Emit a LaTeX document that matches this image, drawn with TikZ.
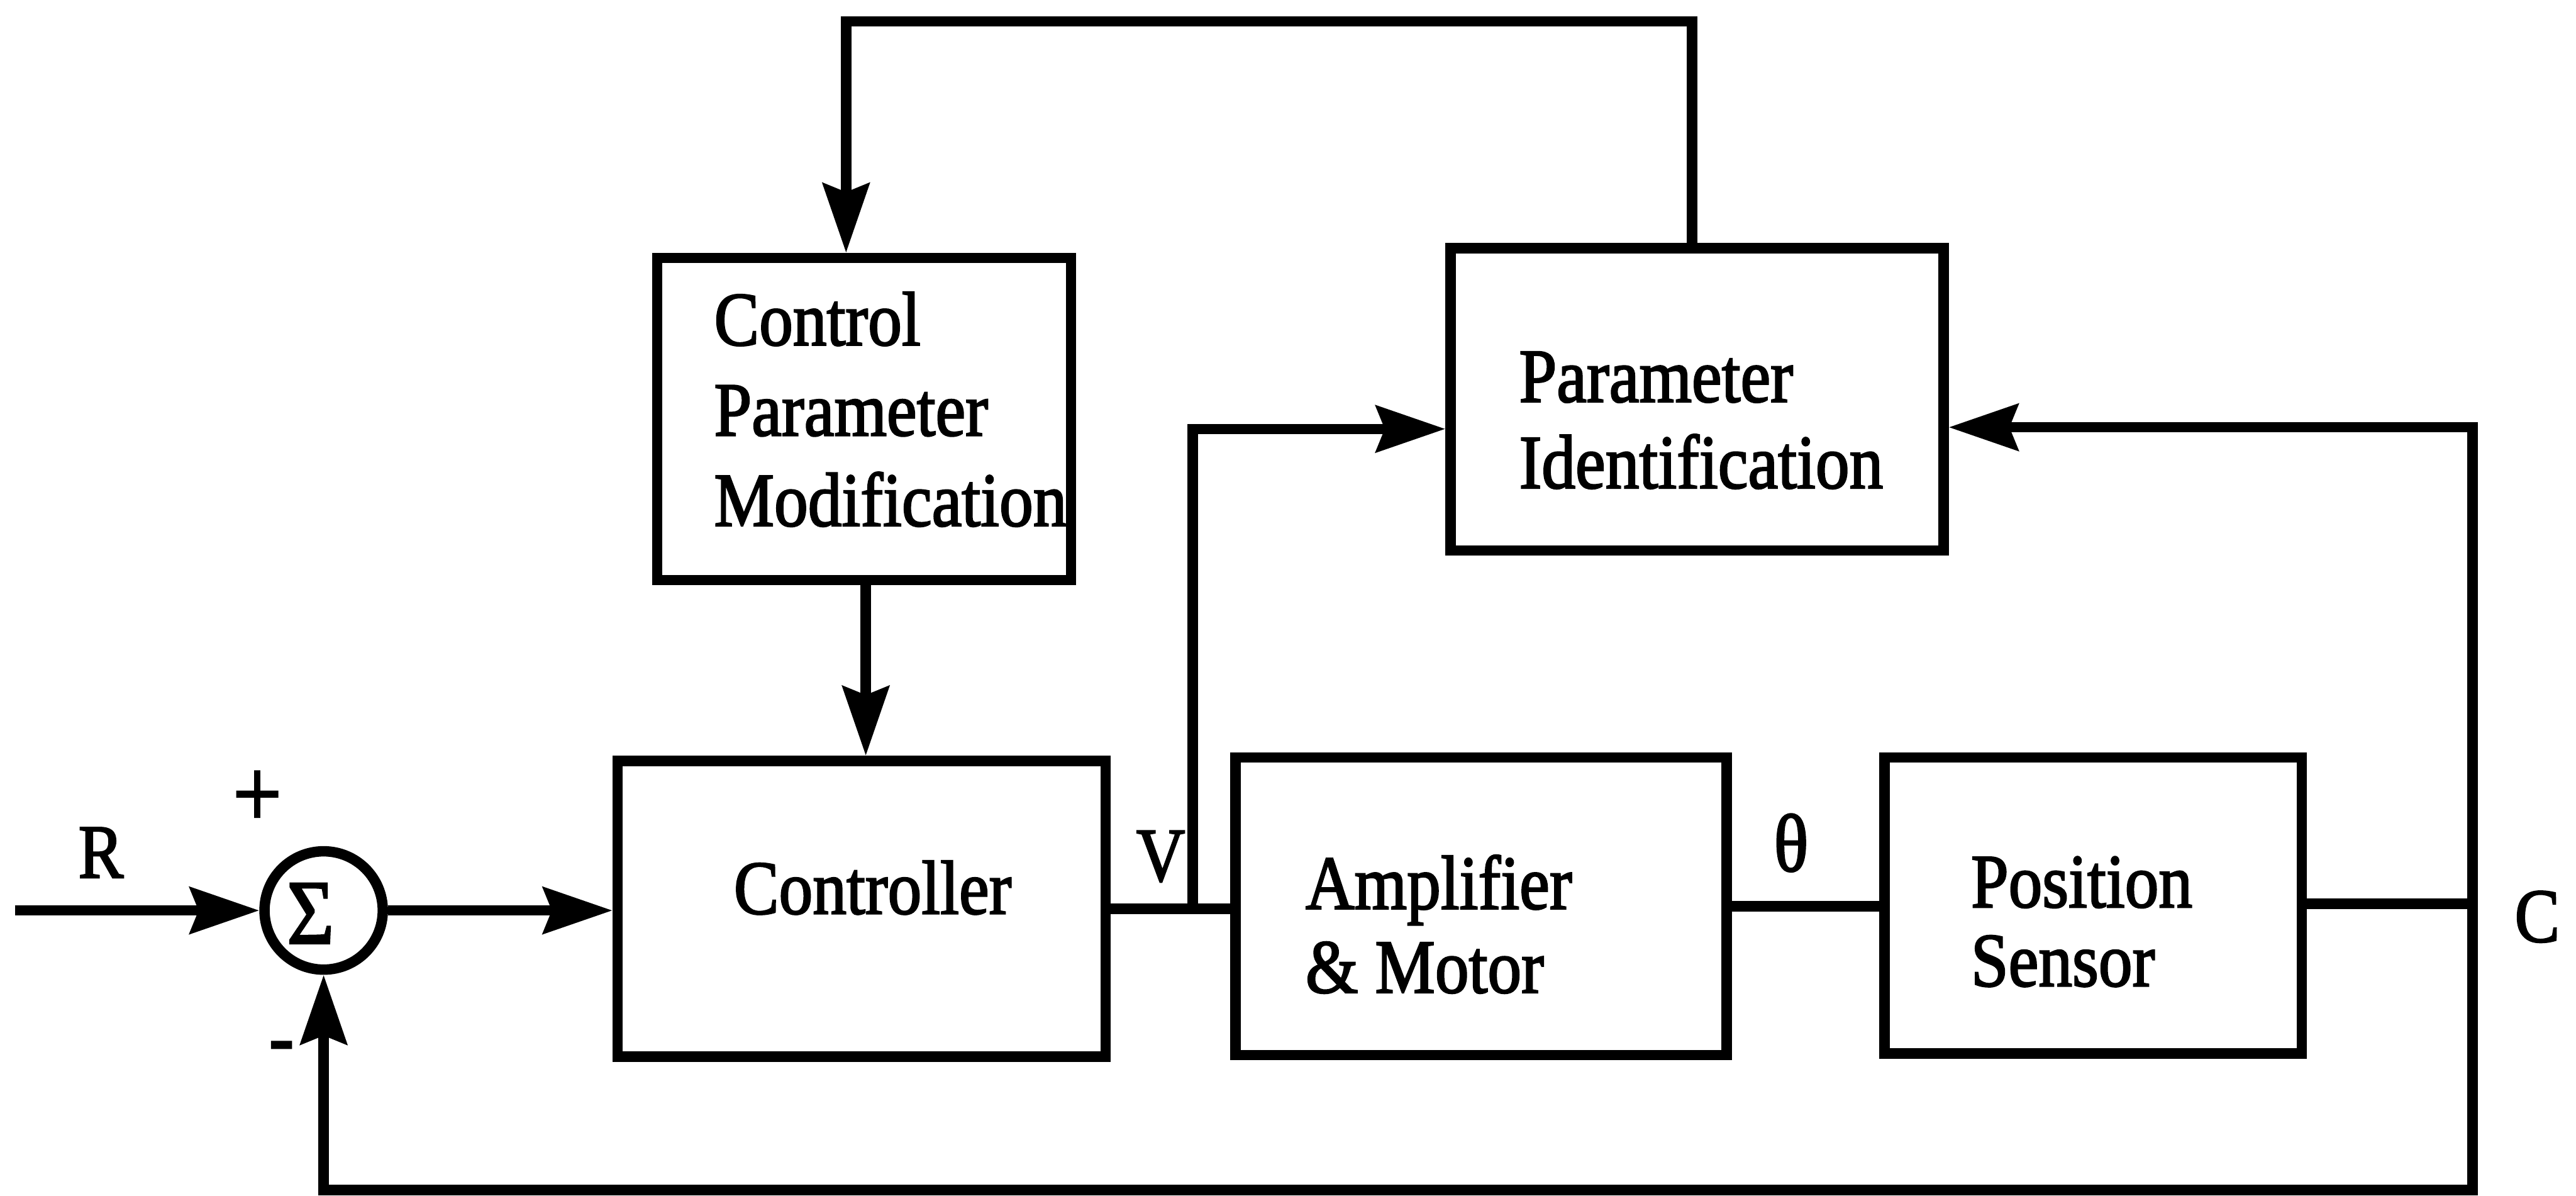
\documentclass[tikz,border=0pt]{standalone}
\usepackage{fontspec}
\setmainfont[FakeBold=2.2]{Liberation Serif}
\usetikzlibrary{arrows.meta}
\tikzset{
  blk/.style={draw, line width=1.8pt, rectangle, inner sep=0pt},
  sumnode/.style={draw, line width=1.8pt, circle, inner sep=0pt, minimum size=7.2mm},
  lbl/.style={inner sep=0pt, anchor=base west, font=\fontsize{11.7}{14}\selectfont},
  wire/.style={line width=1.8pt},
  arr/.style={wire, -{Stealth[length=12pt,width=8pt,inset=1.5pt]}},
}
% slightly tall lettering
\newcommand{\tall}[1]{\scalebox{1}[1.13]{#1}}

\begin{document}
\begin{tikzpicture}[x=0.1mm,y=-0.1mm]
\useasboundingbox (0,0) rectangle (1568,727.4);

% blocks
\node[blk, minimum width=25.2mm, minimum height=19.6mm] (cpm)  at (526,255) {};
\node[blk, minimum width=30.0mm, minimum height=18.4mm] (pid)  at (1033,243) {};
\node[blk, minimum width=29.7mm, minimum height=18.0mm] (ctrl) at (524.5,553) {};
\node[blk, minimum width=29.9mm, minimum height=18.1mm] (amp)  at (901.5,551.5) {};
\node[blk, minimum width=25.4mm, minimum height=18.0mm] (ps)   at (1274,551) {};
\node[sumnode] (sum) at (197,554) {};

% block texts
\node[lbl] (t1)  at (434,210)   {\tall{Control}};
\node[lbl] (t2)  at (434,265)   {\tall{Parameter}};
\node[lbl] (t3)  at (434,320)   {\tall{Modification}};
\node[lbl] (t4)  at (924,244.5) {\tall{Parameter}};
\node[lbl] (t5)  at (924,297)   {\tall{Identification}};
\node[lbl] (t6)  at (446,556)   {\tall{Controller}};
\node[lbl] (t7)  at (794,553)   {\tall{Amplifier}};
\node[lbl] (t8)  at (794,604)   {\tall{\& Motor}};
\node[lbl] (t9)  at (1199,552)  {\tall{Position}};
\node[lbl] (t10) at (1199,600)  {\tall{Sensor}};

% signal labels
\node[lbl, font=\fontsize{14}{16}\selectfont] (sig) at (174,574) {\tall{Σ}};
\node[lbl] (lr)  at (47,534)   {\tall{R}};
\node[lbl, font=\fontsize{15}{16}\selectfont] (lp)  at (141,503)  {\tall{+}};
\node[lbl, font=\fontsize{13}{16}\selectfont] (lm)  at (163,648)  {\tall{-}};
\node[lbl] (lv)  at (691,536)  {\tall{V}};
\node[lbl, font=\fontsize{12.5}{14}\selectfont] (lth) at (1079,530) {\tall{θ}};
\node[lbl] (lc)  at (1530,573) {\tall{C}};

% routing points
\coordinate (rin) at (9,554);
\coordinate (vj)  at (726,553);
\coordinate (vt)  at (726,261);
\coordinate (cj)  at (1505,550);
\coordinate (ct)  at (1505,260);
\coordinate (cb)  at (1505,724);
\coordinate (sb)  at (197,724);
\coordinate (tl)  at (515,13);
\coordinate (tr)  at (1030,13);
\coordinate (mx)  at (527,0);

% forward path
\draw[arr]  (rin) -- (sum.west);
\draw[arr]  (sum.east) -- (ctrl.west |- sum.east);
\draw[wire] (ctrl.east |- vj) -- (amp.west |- vj);
\draw[wire] (amp.east |- 0,551.5) -- (ps.west |- 0,551.5);
\draw[wire] (ps.east |- cj) -- (cj);

% identification inputs
\draw[arr]  (vj) -- (vt) -- (pid.west |- vt);
\draw[arr]  (cb) -- (ct) -- (pid.east |- ct);

% position feedback
\draw[arr]  (cj) -- (cb) -- (sb) -- (sum.south);

% adaptation loop
\draw[arr]  (pid.north -| tr) -- (tr) -- (tl) -- (cpm.north -| tl);
\draw[arr]  (cpm.south -| mx) -- (ctrl.north -| mx);
\end{tikzpicture}
\end{document}
